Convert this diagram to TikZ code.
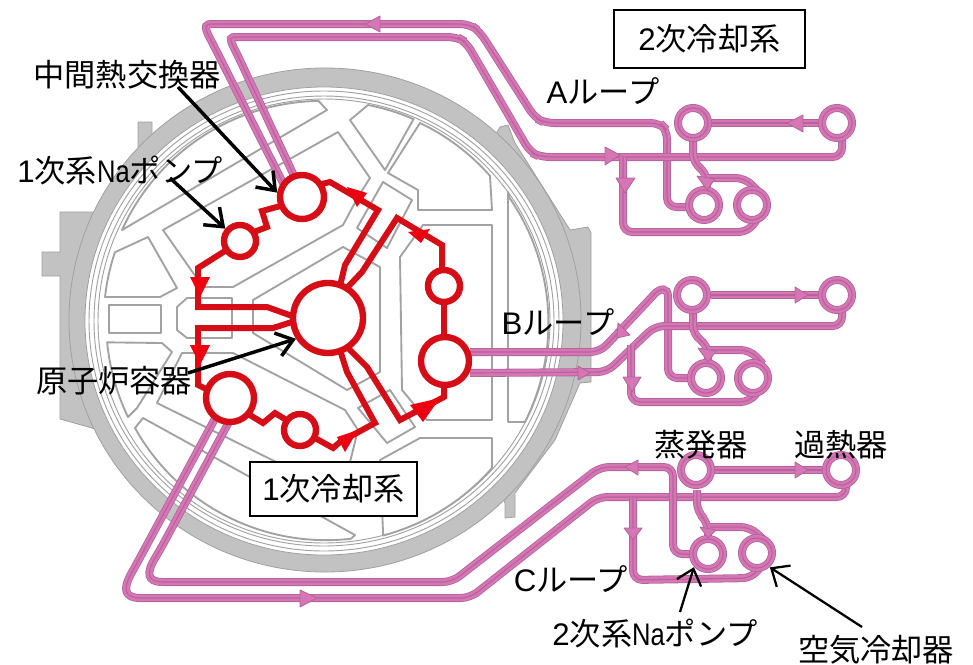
\documentclass[tikz,border=0pt]{standalone}
\usepackage{fontspec}
\setmainfont{Liberation Sans}
\newfontfamily\cjk{Noto Sans CJK JP}
\newfontfamily\nafont[FakeStretch=0.82]{Liberation Sans}
\usetikzlibrary{arrows.meta}
\definecolor{ringgrey}{HTML}{C2C2C2}
\definecolor{ringedge}{HTML}{A0A0A0}
\definecolor{roomgrey}{HTML}{A2A2A2}
\definecolor{redline}{HTML}{D40D17}
\definecolor{redtip}{HTML}{EC0010}
\definecolor{pinkdark}{HTML}{B0659A}
\definecolor{pinkmain}{HTML}{D676B4}
\definecolor{pinkmid}{HTML}{B8639E}
\tikzset{
  x=0.75pt,y=-0.75pt,
  room/.style={draw=roomgrey,line width=1.4pt,line join=round},
  thincirc/.style={draw=roomgrey,line width=0.7pt},
  redpipe/.style={draw=redline,line width=4.5pt,line join=miter},
  redring/.style={circle,draw=redline,line width=4.8pt,fill=white,inner sep=0pt},
  redarrow/.style={fill=redtip},
  pouter/.style={draw=pinkdark,line width=6pt,rounded corners=7pt},
  pinner/.style={draw=pinkmain,line width=4.8pt,rounded corners=7pt},
  pcentre/.style={draw=pinkmid,line width=0.9pt,rounded corners=7pt},
  ringo/.style={draw=pinkdark,line width=6pt,fill=white},
  ringi/.style={draw=pinkmain,line width=4.8pt},
  ringm/.style={draw=pinkmid,line width=0.9pt},
  pinkarrow/.style={fill=pinkmain,draw=pinkdark,line width=0.6pt,line join=round},
  leaderthick/.style={draw=black,line width=2.6pt,-{Straight Barb[length=12pt,width=18pt,line width=2.6pt]}},
  leaderthin/.style={draw=black,line width=1.7pt,-{Straight Barb[length=11pt,width=19pt,line width=1.7pt]}},
  lbl/.style={inner sep=0pt,font=\fontsize{23.4}{26}\selectfont,text=black},
  boxlbl/.style={lbl,draw=black,line width=1pt,fill=white,inner sep=0pt},
  anchorcirc/.style={circle,inner sep=0pt,minimum size=#1*0.75pt}
}
\newcommand{\pipe}[1]{\draw[pouter] #1; \draw[pinner] #1; \draw[pcentre] #1;}
\newcommand{\pcirc}[3]{%
  \draw[ringo] (#2,#3) circle[radius=15];
  \draw[ringi] (#2,#3) circle[radius=15];
  \draw[ringm] (#2,#3) circle[radius=15];
  \node[anchorcirc=38] (#1) at (#2,#3) {};}
\newcommand{\smallNa}{{\nafont Na}}
\begin{document}
\begin{tikzpicture}
\useasboundingbox (0,0) rectangle (973,664);
% ---------- containment building
\path[fill=ringgrey,draw=ringedge,line width=0.6pt]
  (60,212)--(100,212)--(130,170)--(138,150)--(138,122)--(152,122)--(152,135)--(200,110)
  --(300,200)--(200,300)--(120,440)--(92,428)--(60,419)--(60,276)--(42,276)--(42,252)--(60,252)--cycle;
\path[fill=ringgrey,draw=ringedge,line width=0.6pt]
  (500,127)--(508,125)--(515,143)--(570,230)--(588,227)--(591,233)--(591,382)--(580,383)
  --(555,440)--(515,493)--(515,517)--(505,518)--(505,503)--(400,300)--cycle;
\path[fill=ringgrey,draw=ringedge,line width=0.6pt] (325,320) ellipse[x radius=256,y radius=252];
\path[fill=white,draw=ringedge,line width=0.6pt] (324,321) ellipse[x radius=239,y radius=234];
\draw[thincirc] (324,321) ellipse[x radius=235,y radius=230];
\draw[thincirc] (324,321) ellipse[x radius=230,y radius=225];
\draw[thincirc] (324,321) ellipse[x radius=226,y radius=222];
% ---------- rooms
\draw[room] (122,230) arc[start angle=204.4,end angle=269,radius=220] -- (327,110) -- cycle;
\draw[room] (163,230)--(338,132)--(370,178)--(358,197)--(343,225)--(233,287)--(203,287)--cycle;
\draw[room] (350,120)--(368,105) arc[start angle=281,end angle=293.5,radius=219] --(385,170)--cycle;
\draw[room] (420,123) arc[start angle=295.5,end angle=318.6,radius=219] --(492,210)--(418,210)--(418,190)--(388,173)--cycle;
\draw[room] (400,257)--(423,225)--(492,225)--(492,420)--(427,420)--(402,390)--cycle;
\draw[room] (508,192)--(508,422)--(525,422) arc[start angle=26.6,end angle=-34.5,radius=221] --cycle;
\draw[room] (383,182)--(412,200)--(387,248)--(357,228)--cycle;
\draw[room] (253,300)--(343,247)--(380,267)--(380,372)--(347,390)--(253,333)--cycle;
\draw[room] (358,408)--(387,443)--(415,427)--(390,390)--cycle;
\draw[room] (380,460)--(420,438)--(492,438)--(492,468) arc[start angle=41.2,end angle=75.2,radius=219] --cycle;
\draw[room] (135,428) arc[start angle=150.8,end angle=83.5,radius=219] --(355,535)--(143,418)--cycle;
\draw[room] (182,353)--(233,353)--(345,410)--(358,430)--(350,462)--(353,500)--(157,403)--cycle;
\draw[room] (105,297) arc[start angle=186.5,end angle=198.4,radius=221] --(148,237)--(177,288)--(160,297)--cycle;
\draw[room] (128,417) arc[start angle=154.3,end angle=174.5,radius=221] --(162,343)--(172,352)--(137,408)--cycle;
\draw[room] (109,305) rectangle (161,333);
\draw[room] (177,307)--(187,298)--(232,298)--(232,338)--(187,338)--(177,330)--cycle;
% ---------- secondary pipes, loop A
\pipe{(284,185)--(214,46) .. controls (203,25) and (206,24) .. (222,24)--(470,24)--(480,32)--(535,118)--(545,123)--(660,123)--(667,130)--(667,207)--(688,207)}
\pipe{(296,180)--(238,56) .. controls (229,38) and (230,37) .. (246,37)--(457,37)--(466,42)--(530,152)--(540,157)--(842,157)--(842,138)}
\pipe{(711,123)--(819,123)}
\pipe{(693,140)--(693,163)--(707,173)--(707,187)}
\pipe{(708,178)--(745,178)--(760,193)}
\pipe{(623,157)--(623,232)--(748,232)--(758,218)}
% loop B
\pipe{(470,352)--(600,352)--(648,301) .. controls (660,288) and (668,287) .. (668,306)--(668,378)--(690,378)}
\pipe{(470,373)--(607,372)--(655,326)--(842,326)--(842,311)}
\pipe{(711,295)--(819,295)}
\pipe{(693,312)--(693,335)--(708,345)--(708,360)}
\pipe{(710,350)--(750,350)--(763,364)}
\pipe{(631,345)--(631,402)--(750,402)--(759,390)}
% loop C
\pipe{(218,413)--(136,565) .. controls (122,590) and (125,598) .. (150,598)--(470,598)--(598,497)--(846,497)--(846,486)}
\pipe{(230,420)--(160,550) .. controls (146,573) and (147,582) .. (172,582)--(452,582)--(600,467)--(673,467)--(673,554)--(692,554)}
\pipe{(714,470)--(823,470)}
\pipe{(697,490)--(697,512)--(708,522)--(708,538)}
\pipe{(710,527)--(750,527)--(764,540)}
\pipe{(633,498)--(633,580)--(752,578)--(762,565)}
% secondary equipment
\pcirc{evA}{693}{123}\pcirc{shA}{837}{123}\pcirc{puA}{704}{205}\pcirc{coA}{752}{205}
\pcirc{evB}{692}{295}\pcirc{shB}{837}{295}\pcirc{puB}{706}{378}\pcirc{coB}{753}{378}
\pcirc{evC}{696}{470}\pcirc{shC}{841}{470}\pcirc{puC}{708}{554}\pcirc{coC}{757}{553}
% pink arrows
\path[pinkarrow] (365,24)--(380,16)--(380,32)--cycle;
\path[pinkarrow] (787,123)--(803,115)--(803,132)--cycle;
\path[pinkarrow] (620,155)--(605,147)--(605,165)--cycle;
\path[pinkarrow] (625,193)--(616,178)--(635,178)--cycle;
\path[pinkarrow] (697,176)--(715,179)--(707,190)--cycle;
\path[pinkarrow] (617,338)--(618,323)--(630,335)--cycle;
\path[pinkarrow] (808,295)--(795,287)--(795,303)--cycle;
\path[pinkarrow] (590,373)--(578,366)--(578,380)--cycle;
\path[pinkarrow] (632,392)--(623,377)--(641,377)--cycle;
\path[pinkarrow] (698,348)--(716,351)--(708,362)--cycle;
\path[pinkarrow] (625,467)--(638,460)--(638,475)--cycle;
\path[pinkarrow] (808,470)--(795,462)--(795,478)--cycle;
\path[pinkarrow] (633,540)--(624,528)--(642,528)--cycle;
\path[pinkarrow] (700,527)--(716,530)--(708,538)--cycle;
\path[pinkarrow] (317,598)--(300,590)--(300,607)--cycle;
% ---------- primary loop
\draw[redpipe] (225,251)--(198,268)--(198,307)--(267,307)--(295,317);
\draw[redpipe] (295,321)--(273,328)--(198,328)--(198,385)--(212,392);
\draw[redpipe] (254,232)--(267,227)--(262,211)--(284,205);
\draw[redpipe] (318,185)--(330,182)--(378,210)--(345,265)--(339,290);
\draw[redpipe] (345,290)--(362,272)--(397,218)--(442,245)--(442,272);
\draw[redpipe] (444,300)--(444,342);
\draw[redpipe] (346,346)--(367,367)--(400,420)--(444,397)--(444,380);
\draw[redpipe] (340,350)--(347,372)--(375,423)--(340,442)--(333,448)--(315,438);
\draw[redpipe] (245,412)--(263,423)--(275,413)--(288,421);
\node[redring,minimum size=44*0.75pt] (ihxA) at (302,197) {};
\node[redring,minimum size=32*0.75pt] (pumpA) at (240,241) {};
\node[redring,minimum size=32*0.75pt] (pumpB) at (444,286) {};
\node[redring,minimum size=32*0.75pt] (pumpC) at (300,430) {};
\node[redring,minimum size=48*0.75pt] (ihxB) at (445,361) {};
\node[redring,minimum size=48*0.75pt] (ihxC) at (230,398) {};
\node[redring,line width=4.8pt,minimum size=70*0.75pt] (rv) at (328,318) {};
\path[redarrow] (190,277)--(210,277)--(200,297)--cycle;
\path[redarrow] (190,345)--(210,345)--(200,365)--cycle;
\path[redarrow] (347,187)--(367,193)--(357,207)--cycle;
\path[redarrow] (408,232)--(430,229)--(421,243)--cycle;
\path[redarrow] (440,398)--(410,405)--(423,422)--cycle;
\path[redarrow] (358,430)--(337,437)--(345,452)--cycle;
% ---------- labels
\node[boxlbl,minimum width=167*0.75pt,minimum height=54*0.75pt] (box1) at (333.5,489) {1{\cjk 次冷却系}};
\node[boxlbl,minimum width=191*0.75pt,minimum height=58*0.75pt] (box2) at (709.5,39) {2{\cjk 次冷却系}};
\node[lbl] (lihx) at (127,75) {\cjk 中間熱交換器};
\node[lbl] (lpump) at (120,170) {1{\cjk 次系}\smallNa{\cjk ポンプ}};
\node[lbl] (lrv) at (114,381) {\cjk 原子炉容器};
\node[lbl] (lA) at (603,91) {A{\cjk ループ}};
\node[lbl] (lB) at (558,322) {B{\cjk ループ}};
\node[lbl] (lC) at (571,579) {C{\cjk ループ}};
\node[lbl] (lev) at (701,445) {\cjk 蒸発器};
\node[lbl] (lsh) at (841,445) {\cjk 過熱器};
\node[lbl] (lpu2) at (655,633) {2{\cjk 次系}\smallNa{\cjk ポンプ}};
\node[lbl] (lco) at (876,650) {\cjk 空気冷却器};
% ---------- leaders
\coordinate (t1) at (178,87);
\coordinate (t2) at (170,178);
\coordinate (t3) at (188,373);
\coordinate (t4) at (680,612);
\coordinate (t5) at (862,627);
\draw[leaderthick] (t1) -- (ihxA.170);
\draw[leaderthick] (t2) -- (pumpA.140);
\draw[leaderthick] (t3) -- (rv.213);
\draw[leaderthin] (t4) -- (puC.223);
\draw[leaderthin] (t5) -- (coC.-48);
\end{tikzpicture}
\end{document}
